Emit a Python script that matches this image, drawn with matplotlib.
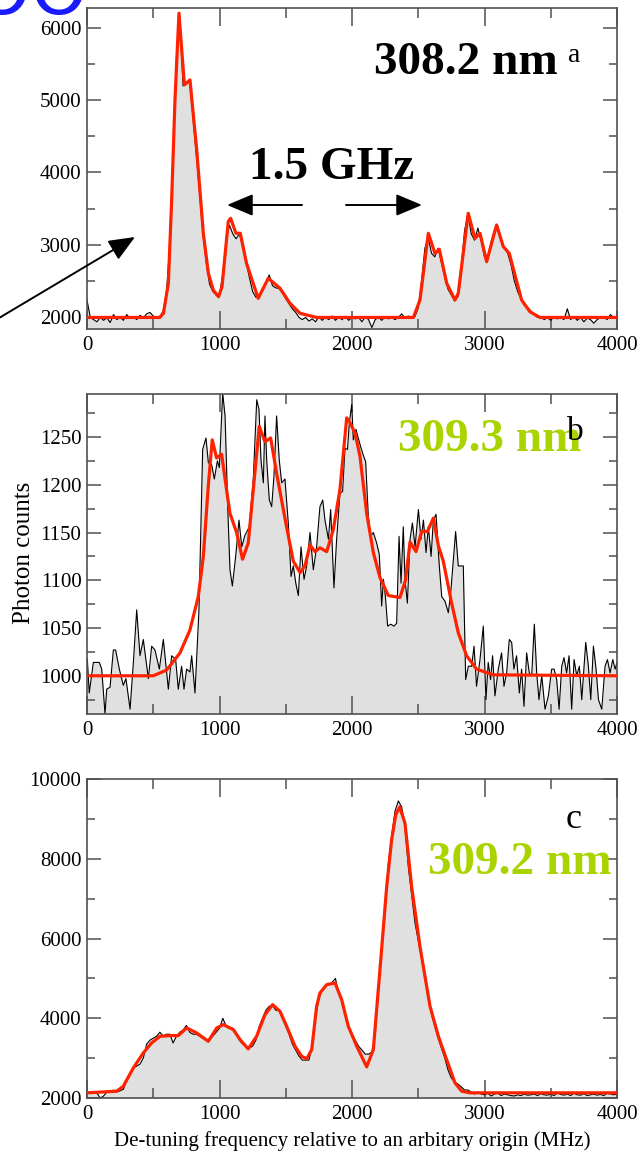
import numpy as np
import matplotlib
matplotlib.use("Agg")
import matplotlib.pyplot as plt
from matplotlib.ticker import MultipleLocator

plt.rcParams['font.family'] = ['Liberation Serif', 'DejaVu Serif']

# ---------------- data ----------------
# frequency sweep grid (MHz) for panels a and c
freq_grid = np.arange(0, 4001, 25)

# panel a: 308.2 nm, measured photon counts
a_counts = [
    2230, 1990, 1960, 1930, 1990, 1950, 1985, 1920,
    2030, 1960, 1990, 1950, 2030, 1975, 2000, 1960,
    2020, 1985, 2040, 2060, 2010, 1990, 2000, 2080,
    2350, 3000, 4300, 5600, 6150, 5200, 5230, 5260,
    4750, 4250, 3700, 3150, 2750, 2450, 2350, 2300,
    2300, 2600, 3050, 3270, 3150, 3080, 3150, 2980,
    2760, 2550, 2350, 2270, 2290, 2380, 2470, 2580,
    2430, 2400, 2390, 2330, 2250, 2180, 2110, 2060,
    1990, 1960, 1990, 1940, 1970, 1930, 2000, 1950,
    1990, 1960, 2010, 1950, 1995, 1960, 2005, 1950,
    1990, 1970, 1990, 1930, 2000, 1960, 1850, 1960,
    1990, 1950, 2000, 1970, 1990, 1960, 1990, 2040,
    1980, 2010, 1990, 2000, 2120, 2500, 2950, 3100,
    2880, 2830, 2950, 2750, 2550, 2380, 2300, 2220,
    2280, 2700, 3200, 3420, 3150, 3060, 3230, 3050,
    2830, 2800, 3040, 3200, 3260, 3060, 2960, 2880,
    2720, 2500, 2350, 2250, 2160, 2130, 2080, 2030,
    1990, 2000, 1960, 1990, 1950, 2000, 1970, 1990,
    1960, 2110, 1960, 2000, 1950, 1990, 1930, 1980,
    1960, 1910, 1960, 1990, 2000, 1960, 2030, 1990,
    2010,
]
# panel a: fitted profile
a_fit_x = [0, 550, 577, 614, 639, 664, 694, 735, 777, 828, 878, 916, 953, 993,
           1019, 1066, 1084, 1124, 1157, 1204, 1292, 1368, 1457, 1532, 1608,
           1733, 2463, 2513, 2576, 2626, 2659, 2715, 2777, 2802, 2877, 2928,
           2966, 3016, 3091, 3142, 3187, 3280, 3343, 3419, 4000]
a_fit_y = [1990, 1990, 2047, 2463, 3618, 5005, 6208, 5214, 5283, 4312, 3157,
           2602, 2370, 2277, 2416, 3318, 3365, 3157, 3157, 2740, 2255, 2533,
           2394, 2186, 2047, 1990, 1990, 2232, 3157, 2879, 2935, 2463, 2232,
           2325, 3434, 3087, 3157, 2763, 3272, 2971, 2879, 2232, 2069, 1990,
           1990]

# panel b: 309.3 nm, measured photon counts
b_freq = [2, 17, 48, 93, 111, 136, 149, 174, 199, 216, 244, 274, 294, 325, 350,
          375, 400, 425, 463, 488, 513, 546, 576, 614, 639, 669, 689, 714, 732,
          752, 777, 790, 815, 845, 873, 898, 916, 941, 961, 984, 999, 1024,
          1042, 1062, 1079, 1097, 1125, 1147, 1168, 1192, 1225, 1255, 1281,
          1298, 1313, 1331, 1343, 1356, 1376, 1394, 1411, 1431, 1451, 1469,
          1494, 1519, 1540, 1557, 1577, 1595, 1615, 1638, 1658, 1683, 1708,
          1733, 1758, 1779, 1796, 1822, 1839, 1864, 1884, 1909, 1929, 1947,
          1966, 1980, 1998, 2010, 2030, 2047, 2065, 2085, 2103, 2123, 2141,
          2161, 2186, 2206, 2224, 2237, 2252, 2269, 2292, 2317, 2337, 2355,
          2370, 2387, 2400, 2418, 2438, 2456, 2476, 2501, 2521, 2539, 2559,
          2576, 2597, 2614, 2634, 2659, 2677, 2702, 2727, 2745, 2765, 2782,
          2802, 2820, 2840, 2858, 2878, 2903, 2921, 2940, 2966, 2991, 3011,
          3028, 3046, 3061, 3079, 3104, 3129, 3147, 3167, 3187, 3205, 3222,
          3242, 3263, 3280, 3298, 3318, 3338, 3356, 3376, 3394, 3411, 3432,
          3457, 3482, 3507, 3525, 3545, 3563, 3583, 3600, 3620, 3638, 3658,
          3676, 3696, 3716, 3734, 3764, 3784, 3802, 3822, 3842, 3860, 3885,
          3910, 3928, 3948, 3968, 3986, 4000]
b_counts = [1018, 982, 1014, 1014, 1007, 960, 986, 988, 1027, 1027, 1007, 990,
            997, 965, 1014, 1069, 1021, 1038, 997, 1031, 1027, 1007, 1038, 986,
            1021, 1017, 986, 1010, 986, 1007, 1004, 1021, 982, 1069, 1237, 1249,
            1223, 1221, 1206, 1225, 1218, 1296, 1272, 1177, 1111, 1094, 1129,
            1163, 1135, 1147, 1156, 1206, 1289, 1279, 1226, 1202, 1272, 1226,
            1184, 1177, 1209, 1272, 1226, 1202, 1206, 1160, 1104, 1115, 1096,
            1084, 1135, 1101, 1115, 1150, 1111, 1135, 1177, 1184, 1163, 1143,
            1174, 1092, 1143, 1191, 1193, 1238, 1237, 1265, 1284, 1247, 1258,
            1249, 1240, 1231, 1224, 1167, 1146, 1150, 1139, 1127, 1073, 1101,
            1083, 1052, 1054, 1052, 1055, 1146, 1097, 1156, 1101, 1076, 1143,
            1160, 1135, 1174, 1143, 1163, 1129, 1156, 1125, 1163, 1169, 1115,
            1083, 1078, 1066, 1087, 1122, 1151, 1115, 1115, 1115, 996, 1010,
            1010, 1031, 989, 1017, 1052, 975, 1014, 996, 1021, 979, 1007, 1024,
            989, 1003, 1038, 1035, 1007, 1021, 982, 1007, 968, 1024, 1003, 1000,
            1054, 1003, 975, 1000, 965, 979, 1007, 1007, 996, 965, 1010, 1019,
            1003, 1021, 965, 1017, 1000, 1010, 975, 1035, 1010, 975, 1031, 1007,
            975, 965, 1010, 1017, 1003, 1017, 1007, 1014]
# panel b: fitted profile
b_fit_x = [0, 500, 601, 702, 777, 840, 878, 915, 945, 978, 1016, 1053, 1079,
           1129, 1174, 1217, 1255, 1300, 1343, 1386, 1431, 1506, 1557, 1608,
           1645, 1683, 1721, 1758, 1809, 1859, 1909, 1960, 1985, 2023, 2060,
           2111, 2161, 2211, 2274, 2362, 2404, 2438, 2483, 2526, 2569, 2614,
           2652, 2689, 2752, 2802, 2865, 2940, 3066, 4000]
b_fit_y = [1000, 1000, 1006, 1024, 1048, 1083, 1125, 1198, 1247, 1228, 1232,
           1195, 1170, 1150, 1122, 1139, 1195, 1261, 1245, 1249, 1212, 1156,
           1120, 1108, 1115, 1137, 1130, 1134, 1130, 1153, 1195, 1270, 1265,
           1254, 1230, 1170, 1129, 1103, 1084, 1082, 1100, 1140, 1130, 1151,
           1151, 1165, 1136, 1120, 1076, 1045, 1021, 1007, 1001, 1000]

# panel c: 309.2 nm, measured photon counts
c_counts = [
    2100, 2150, 2130, 2120, 2000, 2050, 2150, 2150,
    2200, 2150, 2180, 2220, 2450, 2600, 2750, 2800,
    2850, 3000, 3350, 3450, 3500, 3550, 3650, 3550,
    3600, 3600, 3380, 3550, 3650, 3700, 3820, 3650,
    3600, 3600, 3550, 3500, 3450, 3450, 3550, 3650,
    3750, 4000, 3800, 3750, 3750, 3650, 3450, 3350,
    3300, 3250, 3300, 3450, 3800, 4000, 4200, 4300,
    4320, 4200, 4200, 4000, 3800, 3600, 3350, 3200,
    3050, 2950, 2950, 2950, 3300, 4000, 4500, 4700,
    4800, 4850, 4900, 5000, 4600, 4450, 4100, 3800,
    3600, 3450, 3300, 3200, 3100, 3100, 3150, 3600,
    4700, 5900, 6900, 7900, 8600, 9200, 9450, 9300,
    8800, 7800, 7100, 6400, 5950, 5500, 5000, 4500,
    4100, 3800, 3500, 3250, 3000, 2700, 2500, 2400,
    2350, 2280, 2200, 2200, 2150, 2100, 2150, 2100,
    2080, 2120, 2050, 2100, 2130, 2060, 2100, 2080,
    2060, 2050, 2080, 2060, 2100, 2070, 2080, 2100,
    2060, 2110, 2080, 2070, 2100, 2060, 2130, 2090,
    2070, 2100, 2060, 2120, 2080, 2070, 2110, 2060,
    2080, 2100, 2070, 2090, 2060, 2120, 2100, 2080,
    2100,
]
# panel c: fitted profile
c_fit_x = [0, 224, 274, 350, 425, 488, 551, 626, 689, 752, 828, 915, 979, 1029,
           1104, 1155, 1217, 1280, 1343, 1401, 1457, 1507, 1570, 1620, 1658,
           1696, 1733, 1758, 1809, 1872, 1922, 1972, 2036, 2111, 2161, 2211,
           2262, 2299, 2330, 2360, 2400, 2450, 2513, 2589, 2652, 2714, 2777,
           2828, 2890, 4000]
c_fit_y = [2130, 2170, 2295, 2756, 3131, 3382, 3547, 3565, 3565, 3757, 3632,
           3422, 3757, 3840, 3715, 3465, 3232, 3547, 4090, 4341, 4173, 3798,
           3297, 3047, 2981, 3214, 4299, 4634, 4842, 4884, 4466, 3798, 3297,
           2781, 3214, 5217, 7303, 8472, 9100, 9300, 8890, 7303, 5800, 4299,
           3547, 2964, 2381, 2170, 2130, 2130]

xtick_values = [0, 1000, 2000, 3000, 4000]

# ---------------- styling ----------------
FILL = '#e0e0e0'
FIT = '#ff2200'
GREEN = '#aad400'
SPINE = '#505050'

W, H = 644, 1165
fig = plt.figure(figsize=(W / 100, H / 100), dpi=100)


def axes_px(x0, y0, x1, y1):
    return fig.add_axes([x0 / W, 1 - y1 / H, (x1 - x0) / W, (y1 - y0) / H])


def style(ax, ylim, ymaj, ymin):
    ax.set_xlim(0, 4000)
    ax.set_ylim(*ylim)
    ax.xaxis.set_major_locator(MultipleLocator(1000))
    ax.xaxis.set_minor_locator(MultipleLocator(500))
    ax.yaxis.set_major_locator(MultipleLocator(ymaj))
    ax.yaxis.set_minor_locator(MultipleLocator(ymin))
    ax.set_xticks(xtick_values)
    ax.set_xticklabels([str(v) for v in xtick_values])
    ax.tick_params(which='both', direction='in', top=True, right=True,
                   color=SPINE, width=1.1, labelsize=15, labelcolor='black')
    ax.tick_params(axis='x', which='major', length=13, pad=5)
    ax.tick_params(axis='x', which='minor', length=7)
    ax.tick_params(axis='y', which='major', length=10, pad=4)
    ax.tick_params(axis='y', which='minor', length=6)
    for s in ax.spines.values():
        s.set_color(SPINE)
        s.set_linewidth(1.2)


def draw(ax, x, y, fx, fy, ybottom):
    ax.fill_between(x, y, ybottom, color=FILL, lw=0, zorder=1)
    ax.plot(x, y, color='black', lw=0.8, zorder=2)
    ax.plot(fx, fy, color=FIT, lw=2.3, zorder=3, solid_joinstyle='round')


# panel a
ax_a = axes_px(87, 8, 617, 329)
style(ax_a, (1830, 6280), 1000, 500)
draw(ax_a, freq_grid, a_counts, a_fit_x, a_fit_y, 1830)
arrow_kw = dict(arrowstyle='-|>,head_length=1.0,head_width=0.42', color='black',
                lw=1.4, shrinkA=0, shrinkB=0, mutation_scale=16)
ax_a.annotate('', xy=(1057, 3549), xytext=(1623, 3549), arrowprops=arrow_kw)
ax_a.annotate('', xy=(2528, 3549), xytext=(1955, 3549), arrowprops=arrow_kw)
ax_a.annotate('', xy=(135 / W, 1 - 237 / H), xycoords='figure fraction',
              xytext=(-6 / W, 1 - 321 / H), textcoords='figure fraction',
              arrowprops=arrow_kw, annotation_clip=False)

# panel b
ax_b = axes_px(87, 394, 617, 714)
style(ax_b, (960, 1295), 50, 25)
draw(ax_b, b_freq, b_counts, b_fit_x, b_fit_y, 960)

# panel c
ax_c = axes_px(87, 779, 617, 1098)
style(ax_c, (2000, 10000), 2000, 1000)
draw(ax_c, freq_grid, c_counts, c_fit_x, c_fit_y, 2000)


def ftext(x, y, s, **kw):
    fig.text(x / W, 1 - y / H, s, **kw)


# annotations
ftext(466, 63, '308.2 nm', fontsize=34, fontweight='bold', ha='center', va='center')
ftext(574, 56, 'a', fontsize=20, ha='center', va='center')
ftext(332, 168, '1.5 GHz', fontsize=34, fontweight='bold', ha='center', va='center')
ftext(490, 440, '309.3 nm', fontsize=34, fontweight='bold', color=GREEN,
      ha='center', va='center')
ftext(575, 432, 'b', fontsize=24, ha='center', va='center')
ftext(574, 819, 'c', fontsize=26, ha='center', va='center')
ftext(520, 863, '309.2 nm', fontsize=34, fontweight='bold', color=GREEN,
      ha='center', va='center')

ftext(24, 553, 'Photon counts', fontsize=18, rotation=90, ha='center', va='center')
ftext(352, 1141, 'De-tuning frequency relative to an arbitary origin (MHz)',
      fontsize=15, ha='center', va='center')

ftext(88, 14, 'OO', fontsize=52, color='#1a1aff', family='DejaVu Sans',
      ha='right', va='baseline')

fig.savefig('out.png', dpi=100)
